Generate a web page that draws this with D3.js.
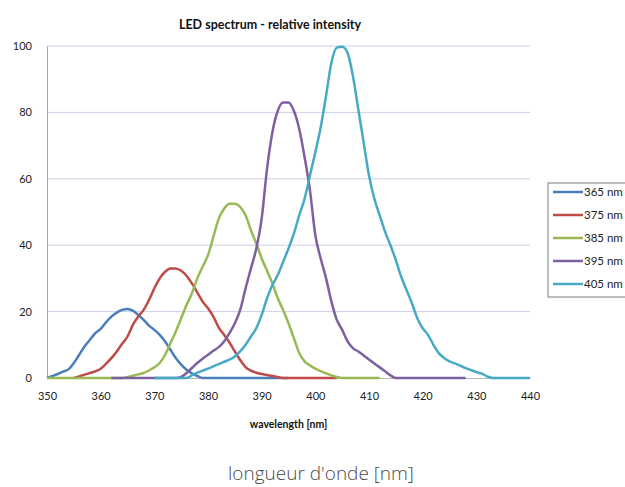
<!DOCTYPE html>
<html>
<head>
<meta charset="utf-8">
<script src="https://cdn.jsdelivr.net/npm/d3@7"></script>
<style>
  body { margin: 0; background: #fff; }
  svg { display: block; }
</style>
</head>
<body>
<div id="chart"></div>
<script>
// wavelengths 350..440 nm, one per nm
const wavelengths = [
  350,351,352,353,354,355,356,357,358,359,360,361,362,363,364,365,366,367,368,369,
  370,371,372,373,374,375,376,377,378,379,380,381,382,383,384,385,386,387,388,389,
  390,391,392,393,394,395,396,397,398,399,400,401,402,403,404,405,406,407,408,409,
  410,411,412,413,414,415,416,417,418,419,420,421,422,423,424,425,426,427,428,429,
  430,431,432,433,434,435,436,437,438,439,440
];

const seriesNames = ["365 nm", "375 nm", "385 nm", "395 nm", "405 nm"];
const seriesColors = ["#4a7ebb", "#be4b48", "#98b954", "#7d60a0", "#46aac5"];

// relative intensity, null = no data at that wavelength
const led365 = [
  0,0.6,1.2,1.9,2.6,4.5,7,9.5,11.5,13.5,14.8,16.8,18.5,19.7,20.5,20.8,20.3,19,17.5,15.8,
  14.5,13,11,8.5,6,4,2.5,1.4,0.6,0,0,0,0,0,0,0,0,0,0,0,
  0,0,0,0,0,0,null,null,null,null,null,null,null,null,null,null,null,null,null,null,
  null,null,null,null,null,null,null,null,null,null,null,null,null,null,null,null,null,null,null,null,
  null,null,null,null,null,null,null,null,null,null,null
];
const led375 = [
  null,null,null,null,null,0,0.5,1,1.5,2,2.8,4.3,6,8,10.3,12.5,16,18.5,20.5,23.5,
  27,30,32,33,33,32.3,30.8,28.5,25.8,23,21,18.5,15.2,13,10.7,8,5.4,3.3,2.2,1.6,
  1.2,0.9,0.6,0.3,0,0,0,0,0,0,0,0,0,0,0,null,null,null,null,null,
  null,null,null,null,null,null,null,null,null,null,null,null,null,null,null,null,null,null,null,null,
  null,null,null,null,null,null,null,null,null,null,null
];
const led385 = [
  0,0,0,0,0,0,0,0,0,0,0,0,0,0,0,0.3,0.7,1.1,1.5,2.3,
  3.2,4.5,7,10.5,14,18,22,25.5,30,33.5,37,42.5,48,51,52.5,52.5,51.5,49,44.5,40.5,
  36,32.3,28.5,24,20.5,16.5,12,7.5,5,3.8,2.8,2.1,1.4,0.8,0.3,0,0,0,0,0,
  0,0,0,null,null,null,null,null,null,null,null,null,null,null,null,null,null,null,null,null,
  null,null,null,null,null,null,null,null,null,null,null
];
const led395 = [
  null,null,null,null,null,null,null,null,null,null,null,null,0,0,0,0,0,0,0,0,
  0,0,0,0,0,0.3,1.5,3,4.5,5.8,7,8.2,9.3,11,13.5,16.5,20.5,27,33,39,
  48,63,74,80.5,83,83,80.5,75,66.5,56.5,43,36,30,23,17.5,14.5,11,9,8,6.8,
  5.6,4.4,3.2,2,0.8,0,0,0,0,0,0,0,0,0,0,0,0,0,0,null,
  null,null,null,null,null,null,null,null,null,null,null
];
const led405 = [
  null,null,null,null,null,null,null,null,null,null,null,null,null,null,null,null,null,null,null,null,
  0,0,0,0,0,0,0,0.8,1.6,2.2,2.8,3.5,4.2,4.9,5.5,6.5,8,10,12.5,15,
  19,24,28,31,35,39,43.5,49,54,61,68,75.5,85,95,99.5,99.8,98,91,81,71,
  61,54,49,44,40,35.5,30.5,26.5,22.5,18,15,13,10,7.5,6,5,4.4,3.7,3,2.4,
  1.8,1.3,0.5,0,0,0,0,0,0,0,0
];

const xTicks = [350, 360, 370, 380, 390, 400, 410, 420, 430, 440];
const yTicks = [0, 20, 40, 60, 80, 100];

const allSeries = [led365, led375, led385, led395, led405];

const W = 625, H = 487;
const margin = { top: 46, right: 95, bottom: 109, left: 47 };
const width = W - margin.left - margin.right;
const height = H - margin.top - margin.bottom;

const svg = d3.select("#chart").append("svg")
  .attr("width", W)
  .attr("height", H);

const g = svg.append("g")
  .attr("transform", `translate(${margin.left},${margin.top})`);

const x = d3.scaleLinear().domain([350, 440]).range([0, width]);
const y = d3.scaleLinear().domain([0, 100]).range([height, 0]);

const font = "Lato, 'Liberation Sans', sans-serif";

// horizontal gridlines
g.selectAll(".grid")
  .data(yTicks.filter(d => d > 0))
  .enter().append("line")
  .attr("x1", 0).attr("x2", width)
  .attr("y1", d => y(d)).attr("y2", d => y(d))
  .attr("stroke", "#cdd0e6")
  .attr("stroke-width", 1);

// y axis
const yAxis = g.append("g")
  .call(d3.axisLeft(y).tickValues(yTicks).tickSize(0).tickPadding(15));
yAxis.select(".domain").attr("stroke", "#a6a6a6");
yAxis.selectAll("text")
  .attr("font-family", font)
  .attr("font-size", "11px")
  .attr("fill", "#222");

// x axis
const xAxis = g.append("g")
  .attr("transform", `translate(0,${height})`)
  .call(d3.axisBottom(x).tickValues(xTicks).tickSize(0).tickPadding(14));
xAxis.select(".domain").attr("stroke", "#b8b8b8");
xAxis.selectAll("text")
  .attr("font-family", font)
  .attr("font-size", "11px")
  .attr("fill", "#222");

// lines
const line = d3.line()
  .defined(d => d[1] !== null)
  .x(d => x(d[0]))
  .y(d => y(d[1]))
  .curve(d3.curveMonotoneX);

allSeries.forEach((vals, i) => {
  const pts = wavelengths.map((w, j) => [w, vals[j]]);
  g.append("path")
    .datum(pts)
    .attr("fill", "none")
    .attr("stroke", seriesColors[i])
    .attr("stroke-width", 2.5)
    .attr("stroke-linejoin", "round")
    .attr("d", line);
});

// title
svg.append("text")
  .attr("x", 270)
  .attr("y", 29)
  .attr("text-anchor", "middle")
  .attr("font-family", font)
  .attr("font-weight", "bold")
  .attr("font-size", "12.5px")
  .attr("fill", "#111")
  .text("LED spectrum - relative intensity");

// x axis title
svg.append("text")
  .attr("x", margin.left + width / 2)
  .attr("y", 428)
  .attr("text-anchor", "middle")
  .attr("font-family", font)
  .attr("font-weight", "bold")
  .attr("font-size", "10.5px")
  .attr("fill", "#111")
  .text("wavelength [nm]");

// french caption below
svg.append("text")
  .attr("x", 321)
  .attr("y", 480)
  .attr("text-anchor", "middle")
  .attr("font-family", "'Open Sans', sans-serif")
  .attr("font-weight", 300)
  .attr("font-size", "19px")
  .attr("fill", "#4a4a4a")
  .text("longueur d'onde [nm]");

// legend
const legend = svg.append("g").attr("transform", "translate(548,183)");
legend.append("rect")
  .attr("width", 90)
  .attr("height", 114)
  .attr("fill", "#fff")
  .attr("stroke", "#7f7f7f")
  .attr("stroke-width", 1);

const item = legend.selectAll(".item")
  .data(seriesNames)
  .enter().append("g")
  .attr("transform", (d, i) => `translate(0,${9 + i * 23})`);

item.append("line")
  .attr("x1", 5).attr("x2", 35)
  .attr("stroke", (d, i) => seriesColors[i])
  .attr("stroke-width", 2.5);

item.append("text")
  .attr("x", 36)
  .attr("dy", "0.35em")
  .attr("font-family", font)
  .attr("font-size", "11.5px")
  .attr("fill", "#222")
  .text(d => d);
</script>
</body>
</html>
